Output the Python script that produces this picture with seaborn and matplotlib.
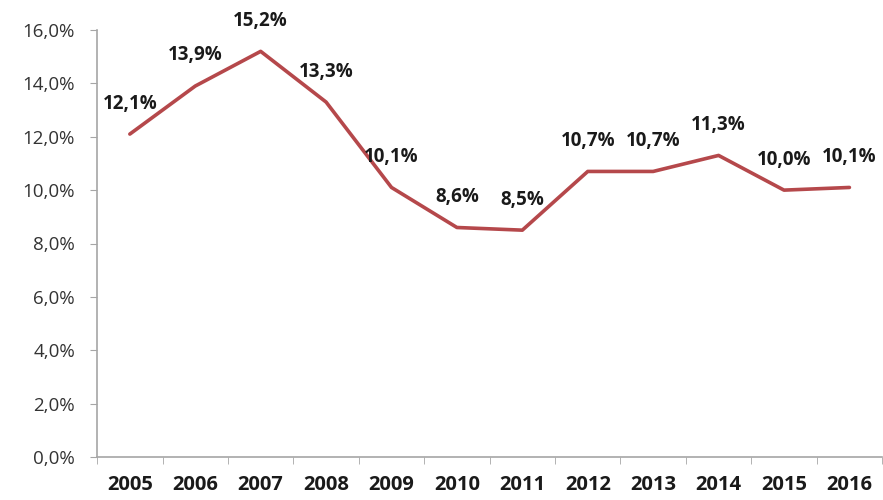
import pandas as pd
import matplotlib
matplotlib.use("Agg")
import matplotlib.pyplot as plt
from matplotlib.ticker import FuncFormatter, FixedLocator
import seaborn as sns

# Values
years = ["2005", "2006", "2007", "2008", "2009", "2010",
         "2011", "2012", "2013", "2014", "2015", "2016"]
rates = [12.1, 13.9, 15.2, 13.3, 10.1, 8.6, 8.5, 10.7, 10.7, 11.3, 10.0, 10.1]

LINE_COLOR = "#b5484b"
AXIS_COLOR = "#a6a6a6"


def pct(v, _pos=None):
    return f"{v:.1f}%".replace(".", ",")


def make_chart():
    sns.set_style("white")
    plt.rcParams["font.family"] = ["Open Sans", "DejaVu Sans"]

    df = pd.DataFrame({"year": years, "rate": rates})

    fig = plt.figure(figsize=(8.83, 5.0), dpi=100)
    ax = fig.add_axes([0.110, 0.086, 0.889, 0.854])

    sns.lineplot(data=df, x="year", y="rate", ax=ax, color=LINE_COLOR,
                 linewidth=2.6, sort=False)

    # data labels above each point
    for i, val in enumerate(rates):
        ax.annotate(pct(val), (i, val), xytext=(0, 22), textcoords="offset points",
                    ha="center", va="center", fontsize=13.5, fontweight="bold",
                    color="#1a1a1a", annotation_clip=False)

    ax.set_xlim(-0.5, len(years) - 0.5)
    ax.set_ylim(0, 16)
    ax.set_yticks(range(0, 17, 2))
    ax.yaxis.set_major_formatter(FuncFormatter(pct))

    # category ticks sit between the years, like the spreadsheet chart
    ax.xaxis.set_minor_locator(FixedLocator([i + 0.5 for i in range(-1, len(years))]))
    ax.tick_params(axis="x", which="major", length=0, pad=13, labelsize=14.5,
                   labelcolor="#1a1a1a")
    ax.tick_params(axis="x", which="minor", length=5, color=AXIS_COLOR, direction="out",
                   bottom=True)
    ax.tick_params(axis="y", length=5, color=AXIS_COLOR, direction="out", left=True,
                   labelsize=13.5, labelcolor="#333333", pad=11)
    for lbl in ax.get_xticklabels():
        lbl.set_fontweight("bold")

    ax.set_xlabel("")
    ax.set_ylabel("")
    sns.despine(ax=ax, top=True, right=True)
    for side in ["left", "bottom"]:
        ax.spines[side].set_color(AXIS_COLOR)
        ax.spines[side].set_linewidth(1.2)

    fig.savefig("out.png", dpi=100)


if __name__ == "__main__":
    make_chart()
